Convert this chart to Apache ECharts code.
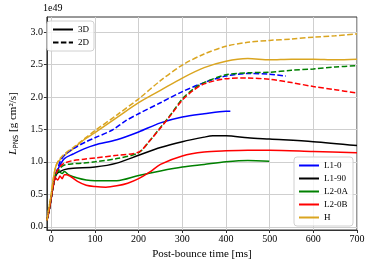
<!DOCTYPE html>
<html><head><meta charset="utf-8">
<script src="https://cdn.jsdelivr.net/npm/echarts@6/dist/echarts.min.js"></script>
<style>html,body{margin:0;padding:0;background:#fff}#c{width:374px;height:267px}</style>
</head><body><div id="c"></div>
<script>
// ---- data (time in ms, L_PNS in units of 1e49 g cm^2/s) ----
const xTicks = [0, 100, 200, 300, 400, 500, 600, 700];
const yTicks = [0.0, 0.5, 1.0, 1.5, 2.0, 2.5, 3.0];

const tL10_3D = [-10,-5,0,5,10,15,20,30,50,75,100,150,200,250,300,350,400,410];
const vL10_3D = [0.1,0.25,0.45,0.65,0.8,0.88,0.95,1.05,1.12,1.2,1.26,1.34,1.46,1.6,1.69,1.74,1.78,1.78];

const tL10_2D = [-10,-5,0,5,10,15,20,30,50,80,100,140,170,200,250,300,350,400,450,500,537];
const vL10_2D = [0.1,0.25,0.45,0.65,0.8,0.9,1.0,1.1,1.2,1.31,1.37,1.49,1.63,1.74,1.91,2.08,2.22,2.32,2.36,2.35,2.32];

const tL190_3D = [-10,-5,0,5,10,15,20,30,50,100,150,200,250,300,350,370,400,450,500,600,700];
const vL190_3D = [0.1,0.25,0.45,0.65,0.78,0.83,0.85,0.88,0.9,0.92,0.98,1.1,1.22,1.31,1.38,1.40,1.40,1.37,1.35,1.31,1.25];

const tL20A_3D = [-10,-5,0,5,10,15,20,25,30,40,60,80,100,150,200,250,300,350,400,450,499];
const vL20A_3D = [0.1,0.25,0.45,0.65,0.8,0.88,0.84,0.82,0.85,0.8,0.75,0.72,0.71,0.71,0.79,0.86,0.92,0.96,1.0,1.02,1.01];

const tL20B_3D = [-10,-5,0,5,10,15,20,25,30,35,45,60,80,100,125,150,175,200,225,250,300,350,400,450,500,600,700];
const vL20B_3D = [0.1,0.25,0.45,0.65,0.75,0.72,0.78,0.74,0.8,0.8,0.77,0.7,0.64,0.62,0.61,0.63,0.67,0.74,0.84,0.96,1.09,1.15,1.17,1.18,1.18,1.16,1.14];

const tL20A_2D = [-10,-5,0,5,10,15,20,30,50,75,100,150,200,225,250,275,300,325,350,400,450,500,550,600,650,700];
const vL20A_2D = [0.1,0.25,0.45,0.65,0.8,0.85,0.9,0.95,0.97,0.98,1.0,1.05,1.14,1.32,1.53,1.74,1.97,2.12,2.22,2.34,2.37,2.38,2.41,2.43,2.46,2.48];

const tL20B_2D = [-10,-5,0,5,10,15,20,30,50,75,100,150,200,225,250,275,300,325,350,400,450,500,550,600,650,700];
const vL20B_2D = [0.1,0.25,0.45,0.65,0.8,0.88,0.93,0.98,1.02,1.04,1.06,1.1,1.15,1.32,1.52,1.73,1.95,2.1,2.2,2.28,2.29,2.27,2.22,2.16,2.11,2.06];

const tH_3D = [-10,-5,0,5,10,15,20,30,50,75,100,150,200,250,300,350,400,450,500,550,600,650,700];
const vH_3D = [0.1,0.3,0.5,0.75,0.92,1.0,1.03,1.1,1.2,1.34,1.45,1.68,1.91,2.1,2.29,2.45,2.55,2.59,2.57,2.58,2.58,2.57,2.58];

const tH_2D = [-10,-5,0,5,10,15,20,30,50,75,100,150,200,250,300,350,400,450,500,550,600,650,700];
const vH_2D = [0.1,0.3,0.5,0.75,0.92,1.0,1.05,1.12,1.22,1.35,1.48,1.72,1.97,2.25,2.49,2.66,2.78,2.84,2.87,2.89,2.92,2.94,2.97];

const models = ['L1-0','L1-90','L2-0A','L2-0B','H'];
const colors = ['#0000ff','#000000','#008000','#ff0000','#daa520'];

// ---- build ----
const zip = (t, v) => t.map((x, i) => [x, v[i]]);
const serif = 'Liberation Serif';
function mk(name, t, v, color, dashed) {
  return {
    name, type: 'line', data: zip(t, v), symbol: 'none', showSymbol: false, smooth: 0.3,
    lineStyle: { color, width: 1.5, type: dashed ? [5.5, 2.4] : 'solid' },
    itemStyle: { color }, emphasis: { disabled: true }, z: 3
  };
}
const series = [
  mk('L1-0', tL10_3D, vL10_3D, colors[0], false),
  mk('L1-90', tL190_3D, vL190_3D, colors[1], false),
  mk('L2-0A', tL20A_3D, vL20A_3D, colors[2], false),
  mk('L2-0B', tL20B_3D, vL20B_3D, colors[3], false),
  mk('H', tH_3D, vH_3D, colors[4], false),
  mk('L1-0 2D', tL10_2D, vL10_2D, colors[0], true),
  mk('L2-0A 2D', tL20A_2D, vL20A_2D, colors[2], true),
  mk('L2-0B 2D', tL20B_2D, vL20B_2D, colors[3], true),
  mk('H 2D', tH_2D, vH_2D, colors[4], true),
  mk('3D', [], [], '#000000', false),
  mk('2D', [], [], '#000000', true)
];

const legendCommon = {
  orient: 'vertical', itemWidth: 20, itemHeight: 9, itemGap: 4,
  backgroundColor: 'rgba(255,255,255,0.8)', borderColor: '#d0d0d0', borderWidth: 1, borderRadius: 3,
  itemStyle: { opacity: 0, borderWidth: 0 },
  textStyle: { fontFamily: serif, fontSize: 9, color: '#000' }, selectedMode: false
};

const chart = echarts.init(document.getElementById('c'), null, { renderer: 'canvas' });
chart.setOption({
  animation: false,
  grid: { left: 43, right: 17, top: 17, bottom: 37, show: true, borderColor: '#333', borderWidth: 1, containLabel: false },
  xAxis: {
    type: 'value', min: -10, max: 700,
    name: 'Post-bounce time [ms]', nameLocation: 'middle', nameGap: 17,
    nameTextStyle: { fontFamily: serif, fontSize: 11, color: '#000' },
    axisLine: { show: true, onZero: false, lineStyle: { color: '#333' } },
    axisTick: { show: true, length: 3, customValues: xTicks, lineStyle: { color: '#333' } },
    axisLabel: { customValues: xTicks, fontFamily: serif, fontSize: 10, color: '#000', margin: 4 },
    splitLine: { show: true, lineStyle: { color: '#cfcfcf', width: 1 } }
  },
  yAxis: {
    type: 'value', min: -0.05, max: 3.23,
    name: '{i|L}{s|PNS} [g cm²/s]', nameLocation: 'middle', nameGap: 25,
    nameTextStyle: { fontFamily: serif, fontSize: 11, color: '#000',
      rich: { i: { fontFamily: serif, fontStyle: 'italic', fontSize: 11 }, s: { fontFamily: 'DejaVu Sans', fontSize: 7, padding: [5, 0, 0, 0] } } },
    axisLine: { show: true, onZero: false, lineStyle: { color: '#333' } },
    axisTick: { show: true, length: 3, customValues: yTicks, lineStyle: { color: '#333' } },
    axisLabel: { customValues: yTicks, fontFamily: serif, fontSize: 10, color: '#000', margin: 4, formatter: v => v.toFixed(1) },
    splitLine: { show: true, lineStyle: { color: '#cfcfcf', width: 1 } }
  },
  legend: [
    Object.assign({}, legendCommon, { data: ['3D', '2D'], left: 47, top: 21, padding: [4, 5, 4, 5] }),
    Object.assign({}, legendCommon, { data: models, right: 21, bottom: 41, padding: [4, 5, 4, 4] })
  ],
  graphic: [{ type: 'text', left: 43, top: 3, style: { text: '1e49', fontFamily: serif, fontSize: 10, fill: '#000' } }],
  series
});
</script></body></html>
